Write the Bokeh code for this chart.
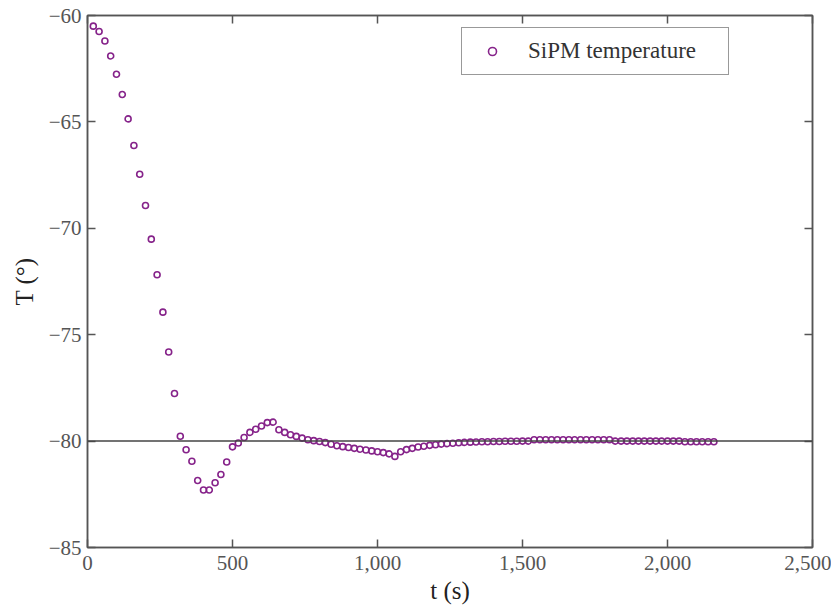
from bokeh.plotting import figure
from bokeh.models import (Range1d, SingleIntervalTicker, NumeralTickFormatter,
                          CustomJSTickFormatter, LinearAxis, Span, Legend, LegendItem)
from bokeh.embed import file_html
from bokeh.resources import INLINE

# ---- data ----
time_s = [20, 40, 60, 80, 100, 120, 140, 160, 180, 200,
          220, 240, 260, 280, 300, 320, 340, 360, 380, 400,
          420, 440, 460, 480, 500, 520, 540, 560, 580, 600,
          620, 640, 660, 680, 700, 720, 740, 760, 780, 800,
          820, 840, 860, 880, 900, 920, 940, 960, 980, 1000,
          1020, 1040, 1060, 1080, 1100, 1120, 1140, 1160, 1180, 1200,
          1220, 1240, 1260, 1280, 1300, 1320, 1340, 1360, 1380, 1400,
          1420, 1440, 1460, 1480, 1500, 1520, 1540, 1560, 1580, 1600,
          1620, 1640, 1660, 1680, 1700, 1720, 1740, 1760, 1780, 1800,
          1820, 1840, 1860, 1880, 1900, 1920, 1940, 1960, 1980, 2000,
          2020, 2040, 2060, 2080, 2100, 2120, 2140, 2160]
sipm_temp = [-60.50, -60.75, -61.20, -61.90, -62.76, -63.71, -64.86, -66.11, -67.46, -68.93,
             -70.51, -72.18, -73.94, -75.81, -77.76, -79.77, -80.41, -80.95, -81.85, -82.30,
             -82.30, -81.96, -81.57, -80.98, -80.27, -80.09, -79.83, -79.59, -79.44, -79.29,
             -79.13, -79.11, -79.47, -79.59, -79.70, -79.78, -79.86, -79.94, -79.98, -80.02,
             -80.07, -80.15, -80.22, -80.26, -80.30, -80.34, -80.38, -80.42, -80.46, -80.50,
             -80.54, -80.60, -80.72, -80.50, -80.40, -80.34, -80.28, -80.24, -80.20, -80.17,
             -80.14, -80.12, -80.10, -80.08, -80.06, -80.05, -80.04, -80.03, -80.03, -80.02,
             -80.02, -80.01, -80.01, -80.01, -80.00, -80.00, -79.94, -79.94, -79.94, -79.94,
             -79.94, -79.94, -79.94, -79.94, -79.94, -79.94, -79.94, -79.94, -79.94, -79.94,
             -80.00, -80.00, -80.00, -80.00, -80.00, -80.00, -80.00, -80.00, -80.00, -80.00,
             -80.00, -80.00, -80.03, -80.03, -80.03, -80.03, -80.03, -80.03]
setpoint = -80
x_range = (0, 2500)
y_range = (-85, -60)
x_step = 500
y_step = 5
series_label = "SiPM temperature"

FONT = "Liberation Serif"
AXIS_COL = "#555555"
LABEL_COL = "#555555"
MARK_COL = "#86238a"

p = figure(width=831, height=606, output_backend="svg", toolbar_location=None,
           x_range=Range1d(*x_range), y_range=Range1d(*y_range),
           min_border_left=87, min_border_right=19, min_border_top=15, min_border_bottom=56)
p.grid.visible = False
p.outline_line_color = AXIS_COL
p.outline_line_width = 1.5
p.background_fill_color = "white"
p.border_fill_color = "white"

xt = SingleIntervalTicker(interval=x_step)
yt = SingleIntervalTicker(interval=y_step)
p.xaxis.ticker = xt
p.yaxis.ticker = yt
p.xaxis.formatter = NumeralTickFormatter(format="0,0")
p.yaxis.formatter = CustomJSTickFormatter(code="return (tick < 0 ? '\u2212' : '') + Math.abs(tick).toString();")

for ax in (p.xaxis[0], p.yaxis[0]):
    ax.major_tick_in = 8
    ax.major_tick_out = 0
    ax.minor_tick_in = 0
    ax.minor_tick_out = 0
    ax.axis_line_color = AXIS_COL
    ax.axis_line_width = 1.5
    ax.major_tick_line_color = AXIS_COL
    ax.major_tick_line_width = 1.5
    ax.major_label_text_font = FONT
    ax.major_label_text_font_size = "21px"
    ax.major_label_text_color = LABEL_COL
    ax.axis_label_text_font = FONT
    ax.axis_label_text_font_size = "25px"
    ax.axis_label_text_font_style = "normal"
    ax.axis_label_text_color = "#222222"

p.xaxis.axis_label = "t (s)"
p.yaxis.axis_label = "T (\u00b0)"
p.xaxis.major_label_standoff = 8
p.xaxis.axis_label_standoff = 4
p.yaxis.major_label_standoff = 6
p.yaxis.axis_label_standoff = 8

blank = CustomJSTickFormatter(code="return '';")
for loc, tk in (("above", xt), ("right", yt)):
    ax = LinearAxis(ticker=tk, formatter=blank, major_label_text_font_size="8px",
                    major_label_standoff=0,
                    major_tick_in=8, major_tick_out=0, minor_tick_in=0, minor_tick_out=0,
                    axis_line_color=AXIS_COL, axis_line_width=1.5,
                    major_tick_line_color=AXIS_COL, major_tick_line_width=1.5)
    p.add_layout(ax, loc)

p.add_layout(Span(location=setpoint, dimension="width", line_color="#444444", line_width=1.5))

r = p.scatter(time_s, sipm_temp, marker="circle", size=6, fill_color=None,
              line_color=MARK_COL, line_width=1.6)

legend = Legend(items=[LegendItem(label=series_label, renderers=[r])],
                location=(374, 472), padding=10, glyph_width=40, glyph_height=20,
                label_standoff=16, label_width=190, label_height=22,
                label_text_font=FONT, label_text_font_size="23px", label_text_color="#333333",
                border_line_color="#333333", border_line_width=1.2, spacing=0, margin=0)
p.add_layout(legend)

open("out.html", "w").write(file_html(p, INLINE))
